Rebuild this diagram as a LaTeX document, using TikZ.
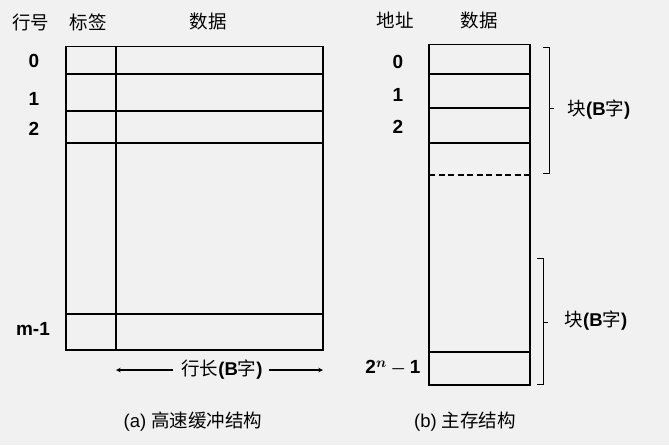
\documentclass[tikz,border=0pt]{standalone}
\usepackage{fontspec}
\setmainfont{Liberation Sans}
\newfontfamily\cjk{Noto Sans CJK SC}
\usepackage{amsmath}
\usepackage{tikz}
\usetikzlibrary{positioning}
\definecolor{paper}{HTML}{F1F1F1}
\newcommand{\blockB}{{\cjk 块}\textbf{(B}{\cjk 字}\textbf{)}}
\newcommand{\lastaddr}{\ensuremath{\mathbf{2}^{\boldsymbol{n}}\boldsymbol{-}\mathbf{1}}}

\begin{document}
\begin{tikzpicture}[x=1pt, y=-1pt,
                    line width=1.3pt,
                    hd/.style  = {font=\cjk\fontsize{18.5}{20}\selectfont, inner sep=0pt},
                    num/.style = {font=\bfseries\fontsize{19}{20}\selectfont, inner sep=0pt},
                    lbl/.style = {font=\fontsize{18.5}{20}\selectfont, inner sep=0pt},
                    brk/.style = {line width=0.9pt},
                    >=stealth]

%background
\fill [paper] (0,0) rectangle (669,445);
\useasboundingbox (0,0) rectangle (669,445);

%headers
\node [hd] (rowno)  at (31,22)  {行号};
\node [hd] (tag)    at (88,22)  {标签};
\node [hd] (dataA)  at (208,21) {数据};
\node [hd] (addr)   at (395,20) {地址};
\node [hd] (dataB)  at (479,20) {数据};

%left table (cache)
\draw [black] (66,46.5) rectangle (323,350);
\draw [black] (116,46.5) -- (116,350);
\draw [black] (66,74)  -- (323,74);
\draw [black] (66,111) -- (323,111);
\draw [black] (66,143) -- (323,143);
\draw [black] (66,314) -- (323,314);

\node [num] (r0)  at (34,61)  {0};
\node [num] (r1)  at (34,99)  {1};
\node [num] (r2)  at (34,129) {2};
\node [num] (rm)  at (33,329) {m-1};

%line length
\node [lbl] (rowlen) at (222,370) {{\cjk 行长}\textbf{(B}{\cjk 字}\textbf{)}};
\coordinate (lenL) at (116,370);
\coordinate (lenR) at (323,370);
\draw [->, line width=1.1pt] (rowlen.west) ++(-8,0) -- (lenL);
\draw [->, line width=1.1pt] (rowlen.east) ++(6,0) -- (lenR);

%right table (main memory)
\draw [black] (429,44.5) rectangle (530,385);
\draw [black] (429,74)  -- (530,74);
\draw [black] (429,108) -- (530,108);
\draw [black] (429,143) -- (530,143);
\draw [black, dash pattern=on 6pt off 3.5pt] (429,175) -- (530,175);
\draw [black] (429,352) -- (530,352);

\node [num] (a0)  at (398,62)  {0};
\node [num] (a1)  at (398,95)  {1};
\node [num] (a2)  at (398,127) {2};
\node [num] (an)  at (393,368) {\lastaddr};

%blocks
\draw [brk] (543,47) -- (549,47) -- (549,173) -- (543,173);
\draw [brk] (549,108) -- (554,108);
\node [lbl] (blk1) at (599,110) {\blockB};

\draw [brk] (537,258) -- (543,258) -- (543,384) -- (537,384);
\draw [brk] (543,322) -- (548,322);
\node [lbl] (blk2) at (596,321) {\blockB};

%captions
\node [lbl] (capA) at (193,422) {(a) {\cjk 高速缓冲结构}};
\node [lbl] (capB) at (465,422) {(b) {\cjk 主存结构}};

\end{tikzpicture}
\end{document}
